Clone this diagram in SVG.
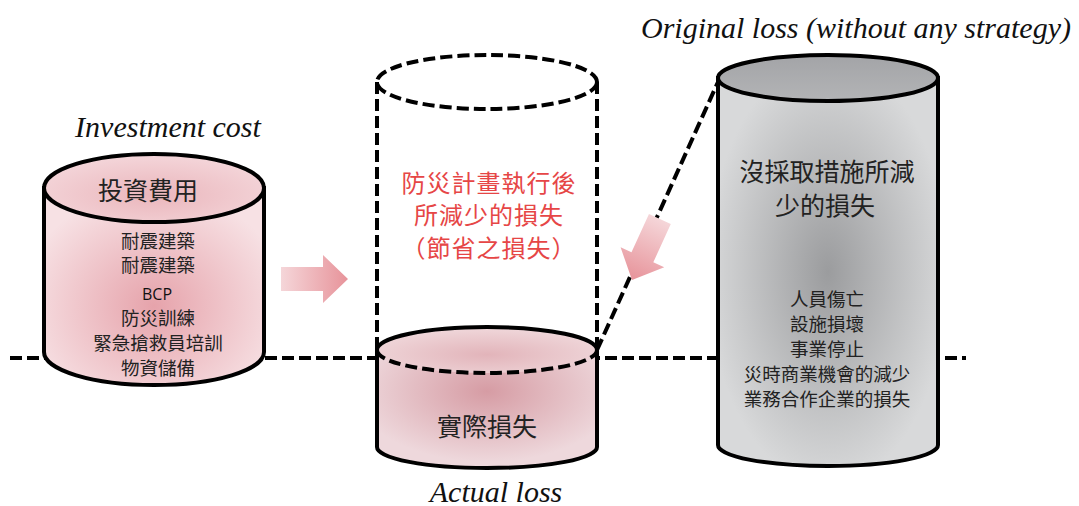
<svg xmlns="http://www.w3.org/2000/svg" width="1079" height="506" viewBox="0 0 1079 506">
<style>
.lab{font-family:"Liberation Serif","Times New Roman",serif;font-style:italic;font-size:30px;fill:#111;text-anchor:middle}
.cjk{font-family:"Noto Sans CJK TC","Noto Sans CJK SC",sans-serif;fill:#222;text-anchor:middle}
.big{font-size:25px}
.mid{font-size:24px;letter-spacing:1px}
.sm{font-size:18.5px}
.red{fill:#e64646}
.solid{stroke:#000;stroke-width:4}
.open{fill:none}
.dash{fill:none;stroke:#000;stroke-width:4;stroke-dasharray:12 5}
</style>
<defs>
<radialGradient id="pinkBody" cx="0.5" cy="0.6" r="0.6">
<stop offset="0" stop-color="#e6a3ab"/><stop offset="1" stop-color="#f7e1e4"/>
</radialGradient>
<radialGradient id="pinkTop" cx="0.5" cy="0.6" r="0.6">
<stop offset="0" stop-color="#eab6bc"/><stop offset="1" stop-color="#f4d6da"/>
</radialGradient>
<radialGradient id="actBody" cx="0.5" cy="0.35" r="0.6">
<stop offset="0" stop-color="#d69ca4"/><stop offset="1" stop-color="#eed8dc"/>
</radialGradient>
<radialGradient id="actTop" cx="0.5" cy="0.6" r="0.6">
<stop offset="0" stop-color="#e2b4ba"/><stop offset="1" stop-color="#f0d8db"/>
</radialGradient>
<radialGradient id="greyBody" cx="0.5" cy="0.5" r="0.55">
<stop offset="0" stop-color="#9b9c9e"/><stop offset="1" stop-color="#d8d9da"/>
</radialGradient>
<linearGradient id="greyTop" x1="0" y1="0" x2="0" y2="1">
<stop offset="0" stop-color="#a3a4a7"/><stop offset="1" stop-color="#b3b4b6"/>
</linearGradient>
<linearGradient id="arrowGrad" x1="0" y1="0" x2="1" y2="0">
<stop offset="0" stop-color="#f5d6d9"/><stop offset="1" stop-color="#e7939a"/>
</linearGradient>
<path id="arrow" d="M-67,-12 L-25,-12 L-25,-24 L0,0 L-25,24 L-25,12 L-67,12 Z" fill="url(#arrowGrad)"/>
</defs>

<g id="connectors">
<line class="dash" x1="10" y1="358" x2="966" y2="358"/>
<line class="dash" x1="597" y1="350" x2="718" y2="82"/>
<use href="#arrow" transform="translate(348,279)"/>
<use href="#arrow" transform="translate(632,280) rotate(114.6)"/>
</g>

<g id="investment">
<path d="M44,188 L44,352 A110,33 0 0,0 264,352 L264,188 Z" fill="url(#pinkBody)" class="solid"/>
<ellipse cx="154" cy="188" rx="110" ry="34" fill="url(#pinkTop)" class="solid"/>
<text class="cjk big" x="148" y="200">投資費用</text>
<text class="cjk sm" x="158" y="248">耐震建築</text>
<text class="cjk sm" x="158" y="272">耐震建築</text>
<text x="157" y="300" style="font-family:'Open Sans','Liberation Sans',sans-serif;font-size:16px;fill:#111;text-anchor:middle">BCP</text>
<text class="cjk sm" x="158" y="325">防災訓練</text>
<text class="cjk sm" x="158" y="350">緊急搶救員培訓</text>
<text class="cjk sm" x="158" y="375">物資儲備</text>
<text class="lab" x="168" y="137">Investment cost</text>
</g>

<g id="actual">
<path d="M377,350 L377,447 A110,21 0 0,0 597,447 L597,350 Z" fill="url(#actBody)" class="solid"/>
<ellipse cx="487" cy="350" rx="110" ry="23" fill="url(#actTop)" stroke="none"/>
<path d="M377,350 A110,23 0 0,1 597,350" class="solid open"/>
<text class="cjk big" x="487" y="436">實際損失</text>
<text class="lab" x="496" y="502">Actual loss</text>
</g>

<g id="saved">
<ellipse cx="487" cy="82" rx="110" ry="27" class="dash"/>
<line class="dash" x1="377" y1="82" x2="377" y2="350"/>
<line class="dash" x1="597" y1="82" x2="597" y2="350"/>
<path d="M377,350 A110,23 0 0,0 597,350" class="dash"/>
<text class="cjk mid red" x="489" y="192">防災計畫執行後</text>
<text class="cjk mid red" x="489" y="224">所減少的損失</text>
<text class="cjk mid red" x="489" y="257">（節省之損失）</text>
</g>

<g id="original">
<path d="M718,78 L718,445 A110,21 0 0,0 938,445 L938,78 Z" fill="url(#greyBody)" class="solid"/>
<ellipse cx="828" cy="78" rx="110" ry="23" fill="url(#greyTop)" class="solid"/>
<text class="cjk big" x="827" y="181">沒採取措施所減</text>
<text class="cjk big" x="825" y="215">少的損失</text>
<text class="cjk sm" x="827" y="306">人員傷亡</text>
<text class="cjk sm" x="827" y="331">設施損壞</text>
<text class="cjk sm" x="827" y="356">事業停止</text>
<text class="cjk sm" x="827" y="381">災時商業機會的減少</text>
<text class="cjk sm" x="827" y="406">業務合作企業的損失</text>
<text class="lab" x="856" y="38">Original loss (without any strategy)</text>
</g>
</svg>
